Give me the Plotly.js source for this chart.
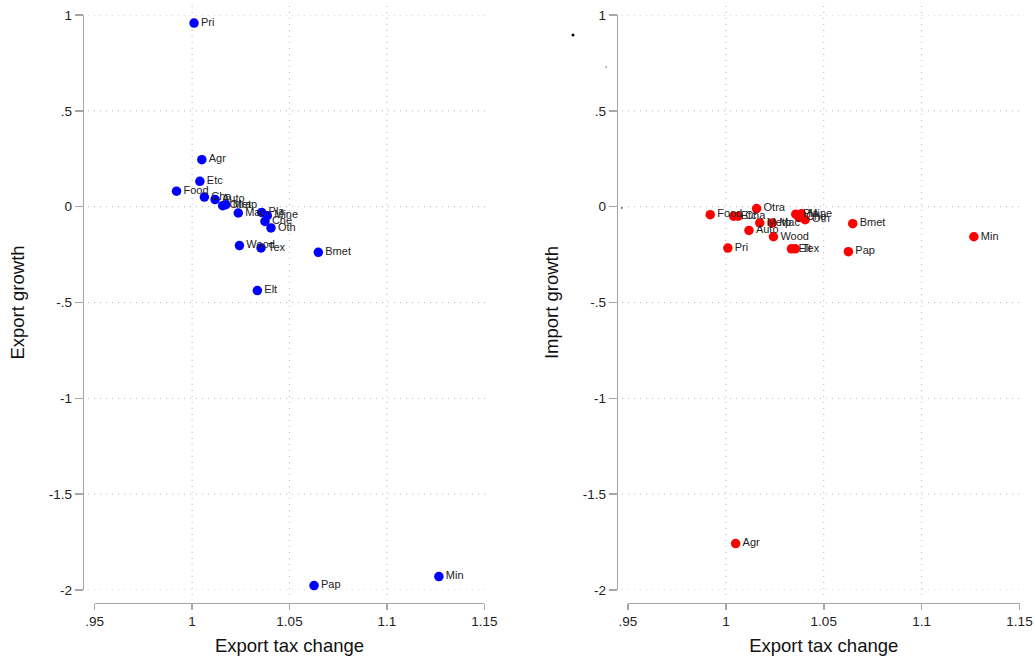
<!DOCTYPE html>
<html>
<head>
<meta charset="utf-8">
<script src="https://cdn.plot.ly/plotly-3.0.1.min.js"></script>
<style>
html,body{margin:0;padding:0;background:#fff;}
#chart{width:1035px;height:660px;}
</style>
</head>
<body>
<div id="chart"></div>
<script>
// ---- data ----
var sectors = ["Pri","Agr","Etc","Food","Cha","Auto","Otra","Metp","Mac","Pla","Mine","Che","Oth","Wood","Tex","Bmet","Elt","Pap","Min"];
var exportTaxChange = [1.001,1.005,1.004,0.992,1.0063,1.0118,1.0157,1.0173,1.0237,1.0357,1.0386,1.0374,1.0405,1.0243,1.0354,1.0648,1.0335,1.0626,1.1267];
var exportGrowth = [0.958,0.245,0.132,0.081,0.05,0.037,0.005,0.01,-0.033,-0.03,-0.047,-0.077,-0.111,-0.203,-0.215,-0.238,-0.438,-1.977,-1.93];
var importGrowth = [-0.216,-1.758,-0.05,-0.042,-0.05,-0.124,-0.01,-0.085,-0.085,-0.039,-0.037,-0.057,-0.068,-0.157,-0.22,-0.089,-0.22,-0.235,-0.157];

var xTickVals = [0.95,1,1.05,1.1,1.15];
var xTickText = [".95","1","1.05","1.1","1.15"];
var yTickVals = [1,0.5,0,-0.5,-1,-1.5,-2];
var yTickText = ["1",".5","0","-.5","-1","-1.5","-2"];
var xGridVals = [1,1.05,1.1];

// ---- layout helpers (pixel -> paper) ----
var W = 1035, H = 660;
function px(x){return x/W;}
function py(y){return 1-y/H;}

var fontFam = "Liberation Sans, Arial, sans-serif";

function trace(y, color, xa, ya){
  return {
    type:"scatter", mode:"markers+text",
    x: exportTaxChange, y: y, text: sectors,
    textposition:"middle right",
    textfont:{family:fontFam, size:11, color:"#222"},
    marker:{color:color, size:9.5, line:{width:0}},
    xaxis:xa, yaxis:ya, hoverinfo:"skip", cliponaxis:false
  };
}

function xaxisDef(d0,d1,title){
  return {
    range:[0.95,1.15], domain:[px(d0),px(d1)], anchor:"free", position:py(602.5),
    showline:true, linecolor:"#a6a6a6", linewidth:1.5,
    ticks:"outside", ticklen:6, tickwidth:1.5, tickcolor:"#a6a6a6",
    tickvals:xTickVals, ticktext:xTickText,
    tickfont:{family:fontFam, size:13.5, color:"#222"},
    showgrid:false, zeroline:false, fixedrange:true,
    title:{text:title, font:{family:fontFam, size:18.5, color:"#111"}, standoff:11},
    automargin:false
  };
}
function yaxisDef(pos,title){
  return {
    range:[-2,1], domain:[py(590),py(15)], anchor:"free", position:px(pos),
    showline:true, linecolor:"#a6a6a6", linewidth:1.5,
    ticks:"outside", ticklen:8, tickwidth:1.5, tickcolor:"#a6a6a6",
    tickvals:yTickVals, ticktext:yTickText,
    tickfont:{family:fontFam, size:13.5, color:"#222"},
    showgrid:false, zeroline:false, fixedrange:true,
    title:{text:title, font:{family:fontFam, size:18.5, color:"#111"}, standoff:18},
    automargin:false
  };
}

var shapes = [];
var gridStyle = {color:"#b5b5b5", width:1, dash:"1px,5px"};
function addGrid(xa, ya, x0px, x1px){
  yTickVals.forEach(function(v){
    shapes.push({type:"line", xref:"paper", yref:ya, x0:px(x0px), x1:px(x1px), y0:v, y1:v, line:gridStyle, layer:"below"});
  });
  xGridVals.forEach(function(v){
    shapes.push({type:"line", xref:xa, yref:"paper", x0:v, x1:v, y0:py(6), y1:py(598), line:gridStyle, layer:"below"});
  });
}
addGrid("x","y",88,490);
addGrid("x2","y2",622,1024);

// small stray dots present in the reference
shapes.push({type:"circle", xref:"paper", yref:"paper", x0:px(571.5), x1:px(574.5), y0:py(36.5), y1:py(33.5), fillcolor:"#000", line:{width:0}});
shapes.push({type:"circle", xref:"paper", yref:"paper", x0:px(605.5), x1:px(606.8), y0:py(67.6), y1:py(66.3), fillcolor:"#333", line:{width:0}});
shapes.push({type:"circle", xref:"paper", yref:"paper", x0:px(620.8), x1:px(622.6), y0:py(208.8), y1:py(207), fillcolor:"#555", line:{width:0}});

var layout = {
  width:W, height:H,
  margin:{l:0,r:0,t:0,b:0,pad:0},
  paper_bgcolor:"#fff", plot_bgcolor:"rgba(0,0,0,0)",
  showlegend:false,
  xaxis: xaxisDef(94.7,484.3,"Export tax change"),
  yaxis: yaxisDef(82.7,"Export growth"),
  xaxis2: xaxisDef(628,1019.5,"Export tax change"),
  yaxis2: yaxisDef(616.7,"Import growth"),
  shapes: shapes
};

Plotly.newPlot("chart",[
  trace(exportGrowth,"#0000ff","x","y"),
  trace(importGrowth,"#ff0000","x2","y2")
], layout, {displayModeBar:false, staticPlot:true});
</script>
</body>
</html>
